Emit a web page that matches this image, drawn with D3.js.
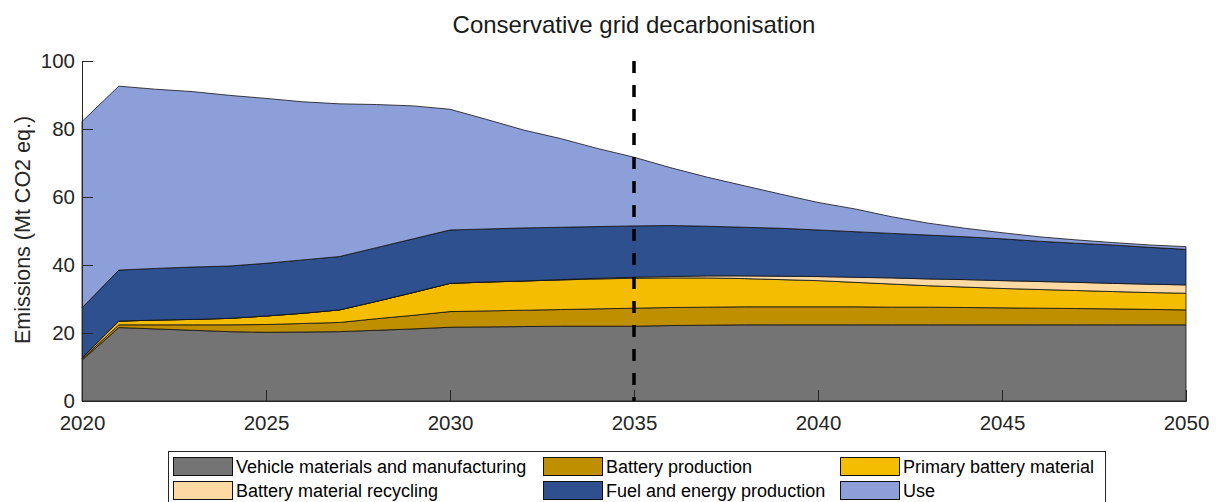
<!DOCTYPE html>
<html>
<head>
<meta charset="utf-8">
<script src="https://cdn.jsdelivr.net/npm/d3@7"></script>
<style>
  html, body { margin: 0; padding: 0; background: #fff; }
  svg { display: block; font-family: "Liberation Sans", Arial, Helvetica, sans-serif; }
</style>
</head>
<body>
<svg id="chart" width="1216" height="502"></svg>
<script>
// Emissions by source, Mt CO2 eq. per year
const years = d3.range(2020, 2051);
const vehicle =           [12.0, 21.6, 21.2, 20.8, 20.4, 20.2, 20.3, 20.4, 20.8, 21.2, 21.7, 21.8, 21.9, 22.0, 22.0, 22.0, 22.2, 22.3, 22.4, 22.4, 22.4, 22.4, 22.4, 22.4, 22.4, 22.4, 22.4, 22.4, 22.4, 22.4, 22.4];
const batteryProduction = [0.3, 0.8, 1.2, 1.6, 2.0, 2.3, 2.5, 2.7, 3.4, 4.0, 4.6, 4.7, 4.8, 4.9, 5.1, 5.3, 5.3, 5.3, 5.3, 5.3, 5.3, 5.3, 5.2, 5.2, 5.1, 5.0, 4.9, 4.8, 4.7, 4.55, 4.4];
const primaryMaterial =   [0.3, 1.1, 1.4, 1.6, 1.9, 2.5, 3.0, 3.7, 5.1, 6.7, 8.3, 8.5, 8.6, 8.7, 8.8, 8.8, 8.7, 8.6, 8.3, 8.0, 7.7, 7.2, 6.8, 6.3, 6.0, 5.7, 5.5, 5.3, 5.1, 4.95, 4.9];
const recycling =         [0, 0, 0, 0, 0, 0, 0, 0, 0, 0, 0, 0, 0, 0.1, 0.2, 0.3, 0.4, 0.6, 0.8, 1.0, 1.2, 1.5, 1.8, 2.0, 2.2, 2.3, 2.35, 2.4, 2.4, 2.45, 2.45];
const fuelEnergy =        [14.8, 15.0, 15.2, 15.4, 15.4, 15.5, 15.7, 15.7, 15.8, 15.8, 15.7, 15.6, 15.6, 15.4, 15.2, 15.1, 15.0, 14.6, 14.3, 14.1, 13.7, 13.4, 13.1, 12.9, 12.6, 12.3, 11.85, 11.5, 11.3, 10.85, 10.45];
const use =               [54.8, 54.1, 52.7, 51.6, 50.2, 48.5, 46.5, 44.9, 42.1, 39.1, 35.5, 32.2, 28.8, 26.1, 23.0, 20.2, 17.0, 14.4, 12.2, 10.0, 8.1, 6.7, 4.9, 3.5, 2.5, 1.8, 1.3, 1.0, 0.7, 0.7, 0.8];

const seriesNames = ["Vehicle materials and manufacturing", "Battery production", "Primary battery material",
                     "Battery material recycling", "Fuel and energy production", "Use"];
const seriesColors = ["#747474", "#bf8f00", "#f5bd00", "#fdd9a3", "#2e508f", "#8c9fd9"];
const xTicks = [2020, 2025, 2030, 2035, 2040, 2045, 2050];
const yTicks = [0, 20, 40, 60, 80, 100];
const markerYear = 2035;
const titleText = "Conservative grid decarbonisation";
const yLabel = "Emissions (Mt CO2 eq.)";

const seriesValues = [vehicle, batteryProduction, primaryMaterial, recycling, fuelEnergy, use];
const rows = years.map((yr, i) => {
  const r = { year: yr };
  seriesNames.forEach((n, k) => { r[n] = seriesValues[k][i]; });
  return r;
});

const svg = d3.select("#chart");
const axisColor = "#262626";

const x = d3.scaleLinear().domain([2020, 2050]).range([82, 1186]);
const y = d3.scaleLinear().domain([0, 100]).range([401, 61]);

const stacked = d3.stack().keys(seriesNames)(rows);

const area = d3.area()
  .x(d => x(d.data.year))
  .y0(d => y(d[0]))
  .y1(d => y(d[1]));

// stacked areas
svg.append("g")
  .selectAll("path")
  .data(stacked)
  .join("path")
  .attr("d", area)
  .attr("fill", (d, i) => seriesColors[i])
  .attr("stroke", "#111")
  .attr("stroke-width", 0.8)
  .attr("stroke-linejoin", "round");

// axes with inward ticks
const yAxis = d3.axisLeft(y).tickValues(yTicks).tickSize(-11).tickPadding(7).tickFormat(d3.format("d"));
const xAxis = d3.axisBottom(x).tickValues(xTicks).tickSize(-11).tickPadding(22).tickFormat(d3.format("d"));

const gy = svg.append("g").attr("transform", "translate(82,0)").call(yAxis);
const gx = svg.append("g").attr("transform", "translate(0,401)").call(xAxis);

[gx, gy].forEach(g => {
  g.select(".domain").attr("stroke", axisColor).attr("stroke-width", 1);
  g.selectAll(".tick line").attr("stroke", axisColor).attr("stroke-width", 1);
  g.selectAll(".tick text").attr("fill", axisColor).attr("font-size", 20.5)
    .attr("font-family", "'Liberation Sans', Arial, sans-serif");
});
gx.selectAll(".tick text").attr("dy", "0.35em");

// policy marker
svg.append("line")
  .attr("x1", x(markerYear)).attr("x2", x(markerYear))
  .attr("y1", y(100)).attr("y2", y(0))
  .attr("stroke", "#000")
  .attr("stroke-width", 3.5)
  .attr("stroke-dasharray", "12,12");

// title
svg.append("text")
  .attr("x", 634).attr("y", 33)
  .attr("text-anchor", "middle")
  .attr("font-size", 24)
  .attr("fill", "#1a1a1a")
  .text(titleText);

// y label
svg.append("text")
  .attr("transform", "translate(30,230) rotate(-90)")
  .attr("text-anchor", "middle")
  .attr("font-size", 21.5)
  .attr("fill", axisColor)
  .text(yLabel);

// legend
const legend = svg.append("g");
legend.append("rect")
  .attr("x", 168.5).attr("y", 451.5).attr("width", 937).attr("height", 52)
  .attr("fill", "#fff").attr("stroke", axisColor).attr("stroke-width", 1);

const colX = [173, 543, 840];
const rowY = [457, 481];
seriesNames.forEach((name, i) => {
  const cx = colX[i % 3], cy = rowY[Math.floor(i / 3)];
  legend.append("rect")
    .attr("x", cx + 0.5).attr("y", cy + 0.5).attr("width", 59).attr("height", 18)
    .attr("fill", seriesColors[i]).attr("stroke", "#111").attr("stroke-width", 1);
  legend.append("text")
    .attr("x", cx + 63).attr("y", cy + 9.5)
    .attr("dy", "0.35em")
    .attr("font-size", 18)
    .attr("fill", "#000")
    .text(name);
});
</script>
</body>
</html>
